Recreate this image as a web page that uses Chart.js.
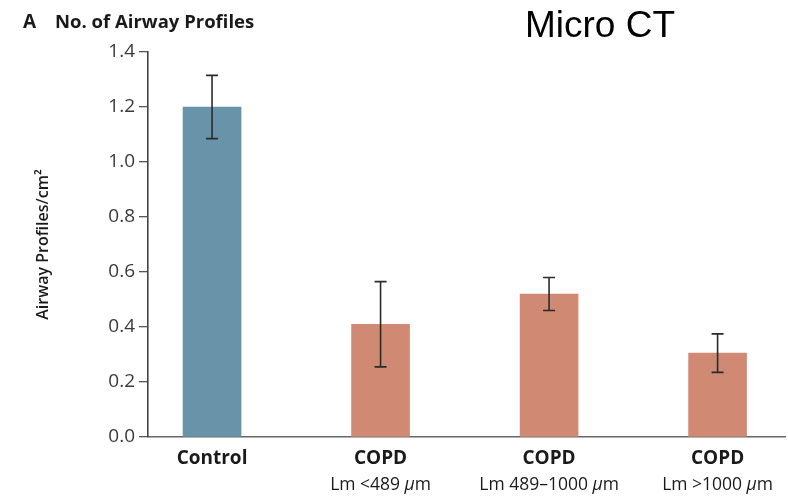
<!DOCTYPE html>
<html>
<head>
<meta charset="utf-8">
<style>
  html, body { margin: 0; padding: 0; background: #ffffff; }
  #wrap { width: 788px; height: 497px; position: relative; }
</style>
<script src="https://cdn.jsdelivr.net/npm/chart.js@4.4.1/dist/chart.umd.min.js"></script>
</head>
<body>
<div id="wrap"><canvas id="c" width="788" height="497"></canvas></div>
<script>
// Groups along the x axis (first line bold, second line regular)
const groupNames = ['Control', 'COPD', 'COPD', 'COPD'];
const groupSubs = ['', 'Lm <489 ', 'Lm 489\u20131000 ', 'Lm >1000 '];
// Mean airway profiles per cm² and the error half-widths
const meanValues = [1.20, 0.41, 0.52, 0.305];
const errorValues = [0.115, 0.155, 0.06, 0.07];
const yTicks = [0.0, 0.2, 0.4, 0.6, 0.8, 1.0, 1.2, 1.4];

const barColors = ['#6893a8', '#d08a74', '#d08a74', '#d08a74'];
const FONT = '"Open Sans", "DejaVu Sans", sans-serif';

const points = meanValues.map((v, i) => ({ x: i, y: v }));

// Error bars drawn from the bar values via the chart's own scales
const errorBarPlugin = {
  id: 'errorBars',
  afterDatasetsDraw(chart) {
    const { ctx, scales: { x, y } } = chart;
    ctx.save();
    ctx.strokeStyle = '#2b2b2b';
    ctx.lineWidth = 1.6;
    meanValues.forEach((v, i) => {
      const px = x.getPixelForValue(i);
      const top = y.getPixelForValue(v + errorValues[i]);
      const bot = y.getPixelForValue(v - errorValues[i]);
      ctx.beginPath();
      ctx.moveTo(px, top); ctx.lineTo(px, bot);
      ctx.moveTo(px - 6, top); ctx.lineTo(px + 6, top);
      ctx.moveTo(px - 6, bot); ctx.lineTo(px + 6, bot);
      ctx.stroke();
    });
    ctx.restore();
  }
};

// Category labels under each bar, with the italic micro sign
const groupLabelPlugin = {
  id: 'groupLabels',
  afterDraw(chart) {
    const { ctx, scales: { x }, chartArea } = chart;
    ctx.save();
    ctx.fillStyle = '#1a1a1a';
    ctx.textBaseline = 'alphabetic';
    groupNames.forEach((name, i) => {
      const px = x.getPixelForValue(i);
      ctx.font = '700 19px ' + FONT;
      ctx.textAlign = 'center';
      ctx.fillText(name, px, chartArea.bottom + 27);
      if (groupSubs[i]) {
        const regular = '400 17.5px ' + FONT;
        const italic = 'italic 400 17.5px ' + FONT;
        ctx.font = regular;
        const w1 = ctx.measureText(groupSubs[i]).width;
        ctx.font = italic;
        const w2 = ctx.measureText('\u03bc').width;
        ctx.font = regular;
        const w3 = ctx.measureText('m').width;
        let sx = px - (w1 + w2 + w3) / 2;
        const by = chartArea.bottom + 53;
        ctx.textAlign = 'left';
        ctx.font = regular; ctx.fillText(groupSubs[i], sx, by); sx += w1;
        ctx.font = italic; ctx.fillText('\u03bc', sx, by); sx += w2;
        ctx.font = regular; ctx.fillText('m', sx, by);
      }
    });
    ctx.restore();
  }
};

// Panel heading and the method caption
const headingPlugin = {
  id: 'heading',
  afterDraw(chart) {
    const { ctx } = chart;
    ctx.save();
    ctx.fillStyle = '#1a1a1a';
    ctx.textAlign = 'left';
    ctx.textBaseline = 'alphabetic';
    ctx.font = '700 19px ' + FONT;
    ctx.fillText('A', 23, 28);
    ctx.font = '700 18.5px ' + FONT;
    ctx.fillText('No. of Airway Profiles', 55, 28);
    ctx.fillStyle = '#000000';
    ctx.font = '37px "Liberation Sans", Arial, sans-serif';
    ctx.fillText('Micro CT', 525, 37);
    ctx.restore();
  }
};

new Chart(document.getElementById('c'), {
  type: 'bar',
  data: {
    datasets: [{
      data: points,
      backgroundColor: barColors,
      borderWidth: 0,
      barThickness: 58
    }]
  },
  options: {
    responsive: false,
    animation: false,
    events: [],
    layout: { padding: { left: 0, top: 52, right: 3, bottom: 60 } },
    plugins: { legend: { display: false }, tooltip: { enabled: false } },
    scales: {
      x: {
        type: 'linear',
        offset: false,
        min: -0.38,
        max: 3.4,
        afterBuildTicks(scale) { scale.ticks = [0, 1, 2, 3].map(v => ({ value: v })); },
        afterFit(scale) { scale.height = 0; },
        ticks: { display: false },
        grid: { display: false },
        border: { display: true, color: '#666666', width: 1.6 }
      },
      y: {
        min: 0,
        max: 1.4,
        afterBuildTicks(scale) { scale.ticks = yTicks.map(v => ({ value: v })); },
        afterFit(scale) { scale.width = 148; },
        ticks: {
          color: '#3a3a3a',
          padding: 4,
          font: { family: FONT, size: 19 },
          callback: v => Number(v).toFixed(1)
        },
        grid: { display: true, drawOnChartArea: false, drawTicks: true, tickLength: 9, color: '#555555', lineWidth: 1.3 },
        border: { display: true, color: '#444444', width: 1.6 },
        title: {
          display: true,
          text: 'Airway Profiles/cm\u00b2',
          color: '#1a1a1a',
          font: { family: FONT, size: 16, weight: '600' },
          padding: { top: 34, bottom: 0 }
        }
      }
    }
  },
  plugins: [errorBarPlugin, groupLabelPlugin, headingPlugin]
});
</script>
</body>
</html>
